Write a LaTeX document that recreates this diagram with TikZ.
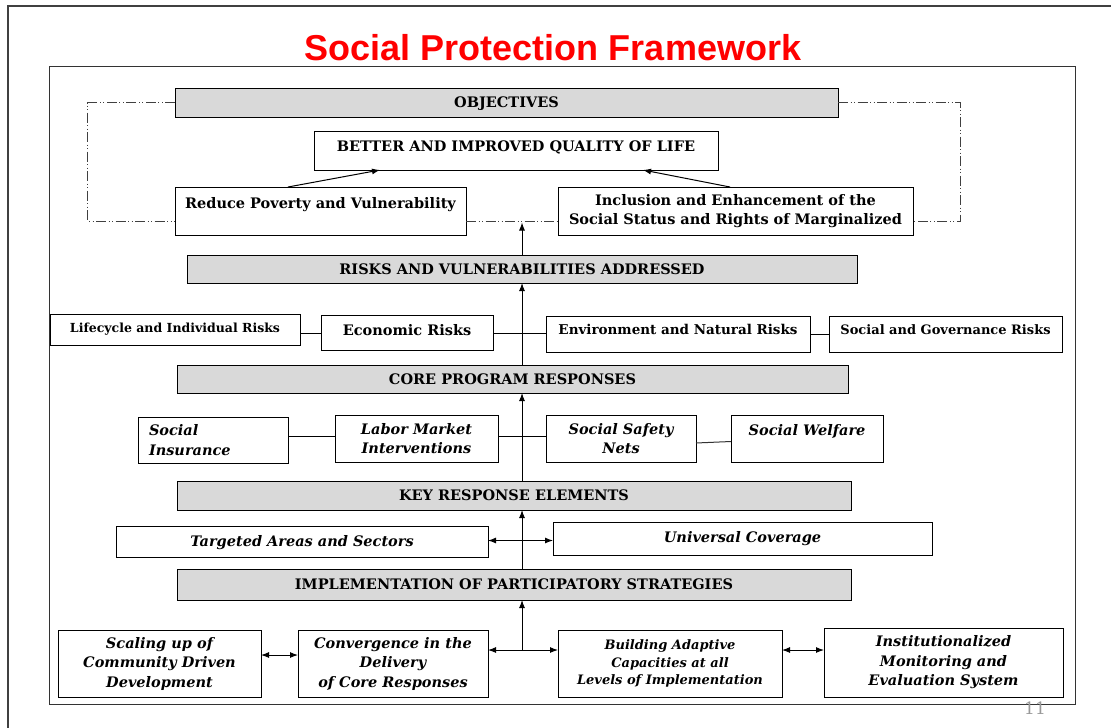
\documentclass[tikz,border=0pt]{standalone}
\usepackage{fontspec}
\setmainfont{DejaVu Serif}
\newfontfamily\titlefont{Liberation Sans}
\usetikzlibrary{arrows.meta,calc}
\definecolor{headgray}{HTML}{D9D9D9}
\definecolor{titlered}{HTML}{FF0000}
\begin{document}
\begin{tikzpicture}[x=1pt,y=-1pt,
  every node/.style={inner sep=0pt, outer sep=0pt},
  hbox/.style={draw=black, line width=1pt, fill=headgray, font=\bfseries\fontsize{14.5}{17}\selectfont, text height=10.6pt, text depth=0pt},
  wbox/.style={draw=black, line width=1pt, fill=white},
  btxt/.style={font=\bfseries\fontsize{14.5}{19}\selectfont, align=center},
  itxt/.style={font=\bfseries\itshape\fontsize{14.5}{19.5}\selectfont, align=center},
  link/.style={line width=1pt},
  arr/.style={line width=1pt, -{Latex[length=8pt,width=6pt]}},
  darr/.style={line width=1pt, {Latex[length=8pt,width=6pt]}-{Latex[length=8pt,width=6pt]}},
  dashdot/.style={line width=0.8pt, draw=black!75, dash pattern=on 10pt off 2.5pt on 1pt off 2.5pt on 1pt off 2.5pt}
]
\useasboundingbox (0,0) rectangle (1111,728);
\fill[white] (0,0) rectangle (1111,728);
% slide frame
\draw[line width=1.5pt, black!75] (8,728) -- (8,6) -- (1111,6);
\draw[line width=1pt, black!80] (49,66) rectangle (1075,704);
% title
\node[font=\titlefont\bfseries\fontsize{36}{42}\selectfont, text=titlered, text height=25.5pt, text depth=0pt] (title) at (553,48) {Social Protection Framework};
\node[text=black!40, font=\fontsize{17}{17}\selectfont] (pg) at (1035,708) {11};

% objectives
\node[hbox, minimum width=663pt, minimum height=29pt] (obj) at (506.5,102.5) {OBJECTIVES};
\node[wbox, btxt, minimum width=404pt, text height=20.3pt, text depth=18.7pt] (better) at (516,150.5) {BETTER AND IMPROVED QUALITY OF LIFE};
\node[wbox, btxt, minimum width=291pt, text height=21.3pt, text depth=26.7pt] (reduce) at (320.5,211) {Reduce Poverty and Vulnerability};
\node[wbox, btxt, minimum width=355pt, minimum height=48pt] (incl) at (735.5,211) {Inclusion and Enhancement of the\\Social Status and Rights of Marginalized};

% risks
\node[hbox, minimum width=670pt, minimum height=28pt] (risks) at (522,269) {RISKS AND VULNERABILITIES ADDRESSED};
\node[wbox, font=\bfseries\fontsize{12.5}{15}\selectfont, minimum width=250pt, text height=18.5pt, text depth=12.5pt] (life) at (175,329.5) {Lifecycle and Individual Risks};
\node[wbox, font=\bfseries\fontsize{14.5}{17}\selectfont, minimum width=172pt, text height=20.3pt, text depth=14.7pt] (econ) at (407,333) {Economic Risks};
\node[wbox, font=\bfseries\fontsize{13.5}{16}\selectfont, minimum width=264pt, text height=18.9pt, text depth=17.1pt] (env) at (678,334) {Environment and Natural Risks};
\node[wbox, font=\bfseries\fontsize{13}{16}\selectfont, minimum width=233pt, text height=18.7pt, text depth=17.3pt] (socgov) at (945.5,334) {Social and Governance Risks};

% core programs
\node[hbox, minimum width=671pt, minimum height=28pt] (core) at (512.5,379) {CORE PROGRAM RESPONSES};
\node[wbox, itxt, align=left, text width=128pt, inner xsep=11pt, minimum height=46pt] (socins) at (213,440) {Social\\Insurance};
\node[wbox, itxt, minimum width=163pt, minimum height=47pt] (labor) at (416.5,438.5) {Labor Market\\Interventions};
\node[wbox, itxt, minimum width=150pt, minimum height=47pt] (safety) at (621,438.5) {Social Safety\\Nets};
\node[wbox, itxt, minimum width=152pt, text height=20.3pt, text depth=26.7pt] (welfare) at (807,438.5) {Social Welfare};

% key response elements
\node[hbox, minimum width=674pt, minimum height=29pt] (key) at (514,495.5) {KEY RESPONSE ELEMENTS};
\node[wbox, itxt, minimum width=372pt, text height=20.8pt, text depth=10.2pt] (targ) at (302,541.5) {Targeted Areas and Sectors};
\node[wbox, itxt, minimum width=379pt, text height=20.3pt, text depth=12.7pt] (univ) at (742.5,538.5) {Universal Coverage};

% implementation
\node[hbox, minimum width=674pt, minimum height=31pt] (impl) at (514,584.5) {IMPLEMENTATION OF PARTICIPATORY STRATEGIES};
\node[wbox, itxt, minimum width=203pt, minimum height=67pt] (scal) at (159.5,663.5) {Scaling up of\\Community Driven\\Development};
\node[wbox, itxt, minimum width=190pt, minimum height=67pt] (conv) at (393,663.5) {Convergence in the\\Delivery\\of Core Responses};
\node[wbox, itxt, font=\bfseries\itshape\fontsize{13}{17.5}\selectfont, minimum width=224pt, minimum height=67pt] (build) at (670,663.5) {Building Adaptive\\Capacities at all\\Levels of Implementation};
\node[wbox, itxt, minimum width=239pt, minimum height=69pt] (inst) at (943.5,662.5) {Institutionalized\\Monitoring and\\Evaluation System};

% helper coordinates
\coordinate (sp) at (522,0);
\coordinate (topend) at (522,222.5);
\coordinate (dL) at (87.5,221);
\coordinate (dR) at (960,221);
\coordinate (ly) at (0,436.5);
\coordinate (ty) at (0,540.5);
\coordinate (b1) at (0,655);
\coordinate (junc) at (522,650);

% dash-dot bracket
\draw[dashdot] (obj.west) -| (dL) -- (reduce.west |- dL);
\draw[dashdot] (obj.east) -| (dR) -- (incl.east |- dR);
\draw[dashdot] (reduce.east |- dL) -- (incl.west |- dL);

% objective arrows
\draw[arr] ([xshift=-32.5pt]reduce.north) -- ([xshift=-136pt]better.south);
\draw[arr] ([xshift=-5.5pt]incl.north) -- ([xshift=127pt]better.south);

% spine
\draw[arr] (risks.north -| sp) -- (topend);
\draw[arr] (core.north -| sp) -- (risks.south -| sp);
\draw[arr] (key.north -| sp) -- (core.south -| sp);
\draw[arr] (impl.north -| sp) -- (key.south -| sp);
\draw[arr] (junc) -- (impl.south -| junc);

% risk links
\draw[link] (econ.west) -- (econ.west -| life.east);
\draw[link] (econ.east) -- (econ.east -| env.west);
\draw[link] (env.east) -- (socgov.west);

% program links
\draw[link] (socins.east |- ly) -- (labor.west |- ly);
\draw[link] (labor.east |- ly) -- (safety.west |- ly);
\draw[link, black!80] ([yshift=-4.5pt]safety.east) -- ([yshift=-3pt]welfare.west);

% key element link
\draw[darr] (targ.east |- ty) -- (univ.west |- ty);

% bottom links
\draw[darr] (scal.east |- b1) -- (conv.west |- b1);
\draw[darr] (conv.east |- junc) -- (build.west |- junc);
\draw[darr] (build.east |- junc) -- (inst.west |- junc);
\end{tikzpicture}
\end{document}
